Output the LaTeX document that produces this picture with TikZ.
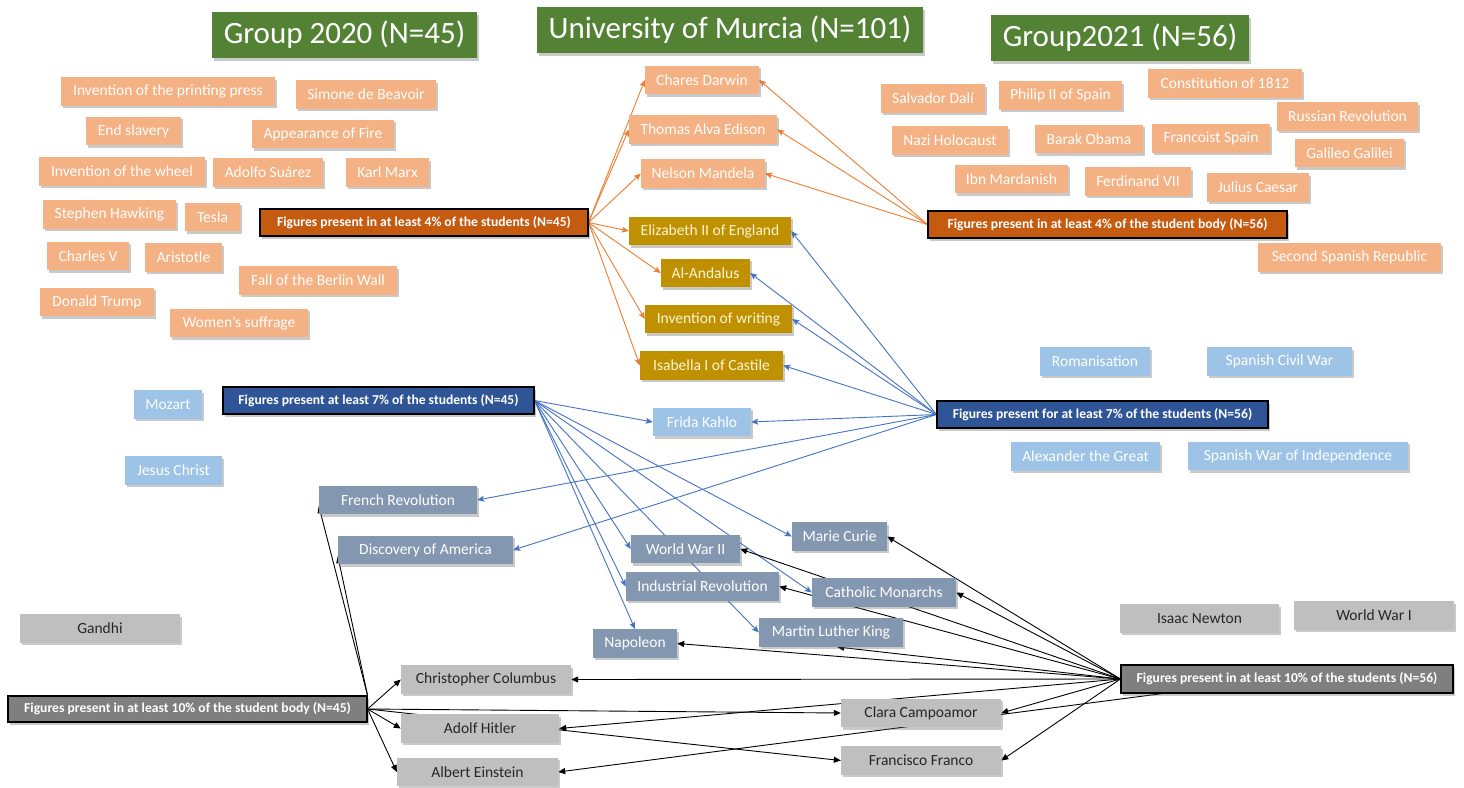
\documentclass[tikz,border=0pt]{standalone}
\usepackage{fontspec}
\setmainfont{Carlito}
\usetikzlibrary{arrows.meta,shadows,backgrounds,calc}
\definecolor{cGreen}{HTML}{548235}
\definecolor{cSalmon}{HTML}{F4B183}
\definecolor{cDarkOrange}{HTML}{C55A11}
\definecolor{cGold}{HTML}{BF9000}
\definecolor{cGoldText}{HTML}{FFF5D6}
\definecolor{cLightBlue}{HTML}{9DC3E6}
\definecolor{cDarkBlue}{HTML}{2F5597}
\definecolor{cSlate}{HTML}{8497B0}
\definecolor{cLightGrey}{HTML}{BFBFBF}
\definecolor{cDarkGrey}{HTML}{7F7F7F}
\definecolor{cGreyText}{HTML}{262626}
\definecolor{cOrangeLine}{HTML}{ED7D31}
\definecolor{cBlueLine}{HTML}{4472C4}
\begin{document}
\begin{tikzpicture}[x=1pt,y=-1pt,
  sh/.style={drop shadow={shadow xshift=2pt,shadow yshift=-2.5pt,opacity=0.35,fill=black!60}},
  box/.style={rectangle,inner sep=0pt,minimum height=28.5pt,sh,font=\fontsize{15.5}{17}\selectfont},
  salmonbox/.style={box,fill=cSalmon,text=white},
  goldbox/.style={box,fill=cGold,text=cGoldText},
  lbluebox/.style={box,fill=cLightBlue,text=white},
  slatebox/.style={box,fill=cSlate,text=white},
  lgreybox/.style={box,fill=cLightGrey,text=cGreyText},
  header/.style={rectangle,inner sep=0pt,minimum height=27pt,draw=black,line width=1.1pt,text=white,sh,
    font=\bfseries\fontsize{13.6}{15}\selectfont},
  orangehead/.style={header,fill=cDarkOrange},
  bluehead/.style={header,fill=cDarkBlue},
  greyhead/.style={header,fill=cDarkGrey},
  titlebox/.style={rectangle,inner sep=0pt,minimum height=46pt,fill=cGreen,text=white,sh,
    font=\fontsize{31}{34}\selectfont},
  oarrow/.style={draw=cOrangeLine,line width=0.9pt,-{Stealth[length=7pt,width=6pt,inset=1.5pt]}},
  barrow/.style={draw=cBlueLine,line width=0.9pt,-{Stealth[length=7pt,width=6pt,inset=1.5pt]}},
  karrow/.style={draw=black,line width=0.9pt,-{Triangle[length=7pt,width=6pt]}}
]
\useasboundingbox (0,0) rectangle (1464,787);

% titles
\node[titlebox,minimum width=265pt] (t2020) at (344.5,35) {Group 2020 (N=45)};
\node[titlebox,minimum width=386pt] (tum) at (730,30) {University of Murcia (N=101)};
\node[titlebox,minimum width=258pt] (t2021) at (1120,38) {Group2021 (N=56)};

% left salmon
\node[salmonbox,minimum width=214pt] (printing) at (168,91.5) {Invention of the printing press};
\node[salmonbox,minimum width=140pt] (beauvoir) at (366,94.5) {Simone de Beavoir};
\node[salmonbox,minimum width=95pt] (slavery) at (133.5,131) {End slavery};
\node[salmonbox,minimum width=142pt] (fire) at (323,134) {Appearance of Fire};
\node[salmonbox,minimum width=166pt] (wheel) at (122,171.5) {Invention of the wheel};
\node[salmonbox,minimum width=110pt] (suarez) at (268,172.5) {Adolfo Suárez};
\node[salmonbox,minimum width=83pt] (marx) at (387.5,172.5) {Karl Marx};
\node[salmonbox,minimum width=133pt] (hawking) at (109.5,214.5) {Stephen Hawking};
\node[salmonbox,minimum width=55pt] (tesla) at (212.5,217) {Tesla};
\node[salmonbox,minimum width=82pt] (charles) at (88,256) {Charles V};
\node[salmonbox,minimum width=77pt] (aristotle) at (183.5,257.5) {Aristotle};
\node[salmonbox,minimum width=158pt] (berlin) at (318,280.5) {Fall of the Berlin Wall};
\node[salmonbox,minimum width=114pt] (trump) at (97,302) {Donald Trump};
\node[salmonbox,minimum width=138pt] (suffrage) at (239,323) {Women's suffrage};

% orange headers
\node[orangehead,minimum width=328pt] (o45) at (424,222.5) {Figures present in at least 4\% of the students (N=45)};
\node[orangehead,minimum width=359pt] (o56) at (1107.5,224.5) {Figures present in at least 4\% of the student body (N=56)};

% centre salmon and gold
\node[salmonbox,minimum width=114pt] (darwin) at (702,80) {Chares Darwin};
\node[salmonbox,minimum width=148pt] (edison) at (703,129.5) {Thomas Alva Edison};
\node[salmonbox,minimum width=124pt] (mandela) at (703,173.5) {Nelson Mandela};
\node[goldbox,minimum width=162pt] (elizabeth) at (710,231) {Elizabeth II of England};
\node[goldbox,minimum width=89pt] (andalus) at (705.5,273) {Al-Andalus};
\node[goldbox,minimum width=147pt] (writing) at (718.5,319) {Invention of writing};
\node[goldbox,minimum width=143pt] (isabella) at (711.5,365.5) {Isabella I of Castile};

% right salmon
\node[salmonbox,minimum width=104pt] (dali) at (933,98.5) {Salvador Dalí};
\node[salmonbox,minimum width=123pt] (philip) at (1060.5,95.5) {Philip II of Spain};
\node[salmonbox,minimum width=154pt] (constitution) at (1225,83.5) {Constitution of 1812};
\node[salmonbox,minimum width=141pt] (russian) at (1347.5,116.5) {Russian Revolution};
\node[salmonbox,minimum width=116pt] (nazi) at (950,140.5) {Nazi Holocaust};
\node[salmonbox,minimum width=108pt] (obama) at (1089,139) {Barak Obama};
\node[salmonbox,minimum width=118pt] (francoist) at (1211,138.5) {Francoist Spain};
\node[salmonbox,minimum width=109pt] (galileo) at (1349.5,153) {Galileo Galilei};
\node[salmonbox,minimum width=113pt] (ibn) at (1011.5,179) {Ibn Mardanish};
\node[salmonbox,minimum width=106pt] (ferdinand) at (1138,181.5) {Ferdinand VII};
\node[salmonbox,minimum width=102pt] (caesar) at (1258,187.5) {Julius Caesar};
\node[salmonbox,minimum width=183pt] (second) at (1349.5,257.5) {Second Spanish Republic};

% light blue
\node[lbluebox,minimum width=68pt] (mozart) at (168,404.5) {Mozart};
\node[lbluebox,minimum width=97pt] (jesus) at (173.5,470.5) {Jesus Christ};
\node[lbluebox,minimum width=110pt] (romanisation) at (1095,361.5) {Romanisation};
\node[lbluebox,minimum width=145pt] (civilwar) at (1279.5,361.5) {Spanish Civil War};
\node[lbluebox,minimum width=149pt] (alexander) at (1085.5,456.5) {Alexander the Great};
\node[lbluebox,minimum width=220pt] (independence) at (1298,456) {Spanish War of Independence};
\node[lbluebox,minimum width=98pt] (frida) at (702,422) {Frida Kahlo};

% blue headers
\node[bluehead,minimum width=311pt] (b45) at (378.5,400.5) {Figures present at least 7\% of the students (N=45)};
\node[bluehead,minimum width=331pt] (b56) at (1102.5,414.5) {Figures present for at least 7\% of the students (N=56)};

% slate
\node[slatebox,minimum width=158pt] (french) at (398,500) {French Revolution};
\node[slatebox,minimum width=175pt] (discovery) at (425.5,550) {Discovery of America};
\node[slatebox,minimum width=95pt] (curie) at (839.5,536.5) {Marie Curie};
\node[slatebox,minimum width=109pt] (ww2) at (685.5,549) {World War II};
\node[slatebox,minimum width=153pt] (industrial) at (702.5,586.5) {Industrial Revolution};
\node[slatebox,minimum width=144pt] (catholic) at (884,592.5) {Catholic Monarchs};
\node[slatebox,minimum width=144pt] (mlk) at (831,632.5) {Martin Luther King};
\node[slatebox,minimum width=84pt] (napoleon) at (635,643.5) {Napoleon};

% light grey
\node[lgreybox,minimum width=160pt] (gandhi) at (100,628.5) {Gandhi};
\node[lgreybox,minimum width=159pt] (newton) at (1199.5,618.5) {Isaac Newton};
\node[lgreybox,minimum width=160pt] (ww1) at (1374,615.5) {World War I};
\node[lgreybox,minimum width=170pt] (columbus) at (486,679.5) {Christopher Columbus};
\node[lgreybox,minimum width=158pt] (hitler) at (480,728.5) {Adolf Hitler};
\node[lgreybox,minimum width=161pt] (einstein) at (477.5,772) {Albert Einstein};
\node[lgreybox,minimum width=160pt] (clara) at (921,713) {Clara Campoamor};
\node[lgreybox,minimum width=160pt] (franco) at (921,760.5) {Francisco Franco};

% grey headers
\node[greyhead,minimum width=359pt,minimum height=26pt] (k45) at (187.5,709) {Figures present in at least 10\% of the student body (N=45)};
\node[greyhead,minimum width=332pt,minimum height=28pt] (k56) at (1287,679) {Figures present in at least 10\% of the students (N=56)};

\coordinate (k56b) at ($(k56.south west)+(42,0)$);

\begin{scope}[on background layer]
\fill[white] (0,0) rectangle (1464,787);
% orange
\foreach \t in {darwin,edison,mandela,elizabeth,andalus,writing,isabella}
  \draw[oarrow] (o45.east) -- (\t.west);
\foreach \t in {darwin,edison,mandela}
  \draw[oarrow] (o56.west) -- (\t.east);
% blue
\foreach \t in {elizabeth,andalus,writing,isabella,frida,french,discovery}
  \draw[barrow] (b56.west) -- (\t.east);
\foreach \t in {frida,curie,ww2,industrial,catholic,mlk}
  \draw[barrow] (b45.east) -- (\t.west);
\draw[barrow] (b45.east) -- (napoleon.north);
% black from N=56
\foreach \t in {curie,catholic,ww2,industrial,napoleon,columbus,hitler,clara,franco}
  \draw[karrow] (k56.west) -- (\t.east);
\draw[karrow] (k56.west) -- ($(mlk.south)+(6,0)$);
\draw[karrow] (k56b) -- (einstein.east);
% black from N=45
\foreach \t in {columbus,hitler,einstein,clara,franco}
  \draw[karrow] (k45.east) -- (\t.west);
\draw[karrow] (k45.north east) -- ($(french.west)+(0,6)$);
\draw[karrow] (k45.north east) -- ($(discovery.west)+(0,6)$);
\end{scope}
\end{tikzpicture}
\end{document}
